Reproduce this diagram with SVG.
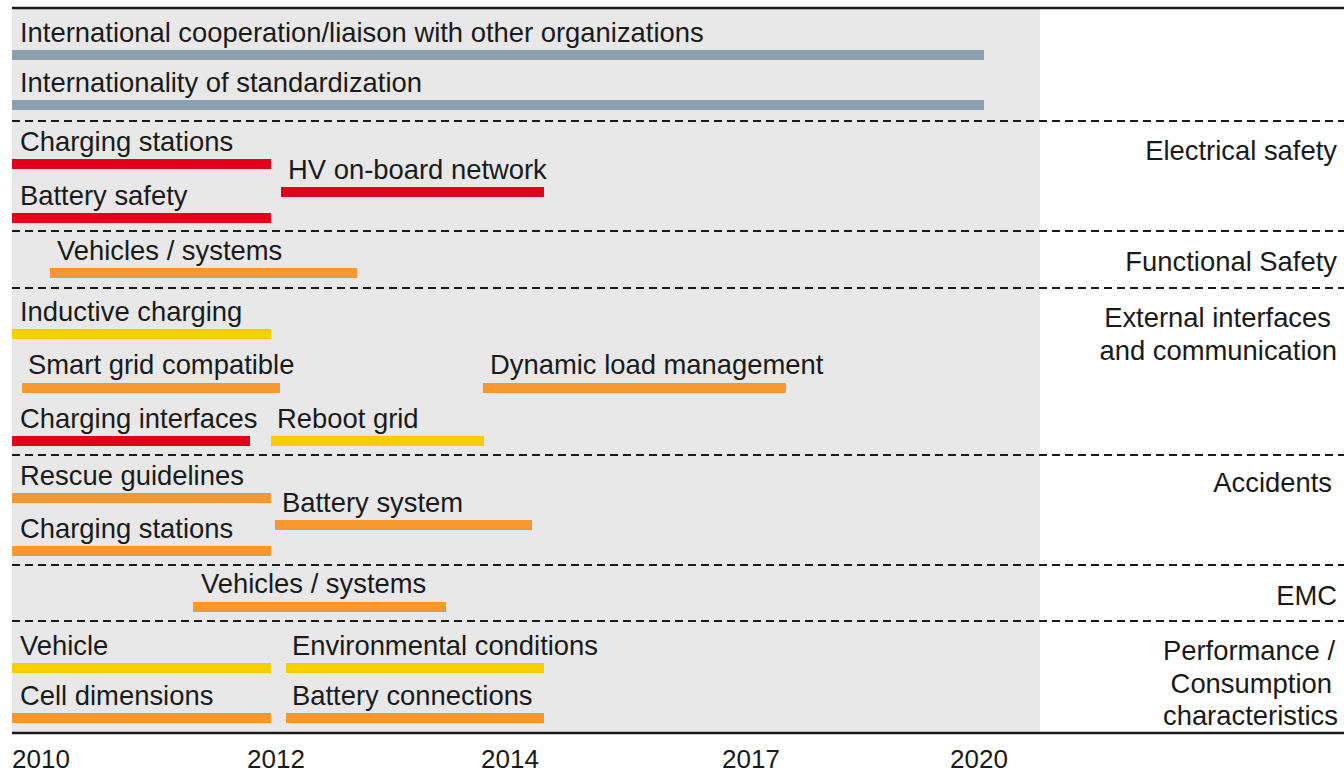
<svg xmlns="http://www.w3.org/2000/svg" width="1344" height="772" viewBox="0 0 1344 772">
<style>
text{font-family:"Liberation Sans",Arial,sans-serif;font-size:27.4px;fill:#1a1a1a}
.r{text-anchor:end}
.y{font-size:26px}
.gb{fill:#8ca1af}
.red{fill:#e3001b}
.or{fill:#f7972f}
.ye{fill:#f6cf00}
.dash{stroke:#1a1a1a;stroke-width:2.2;stroke-dasharray:8 5;fill:none}
.solid{stroke:#1a1a1a;stroke-width:2.5;fill:none}
</style>
<rect x="0" y="0" width="1344" height="772" fill="#ffffff"/>
<rect x="12" y="9" width="1028" height="723" fill="#e8e8e8"/>
<g id="connectors">
<line class="solid" x1="12" y1="8" x2="1344" y2="8"/>
<line class="solid" x1="12" y1="733" x2="1344" y2="733"/>
<line class="dash" x1="12" y1="121" x2="1344" y2="121"/>
<line class="dash" x1="12" y1="231" x2="1344" y2="231"/>
<line class="dash" x1="12" y1="288" x2="1344" y2="288"/>
<line class="dash" x1="12" y1="455" x2="1344" y2="455"/>
<line class="dash" x1="12" y1="565" x2="1344" y2="565"/>
<line class="dash" x1="12" y1="621" x2="1344" y2="621"/>
</g>
<g id="intl-coop"><text x="20" y="42">International cooperation/liaison with other organizations</text><rect class="gb" x="12" y="50" width="972" height="10"/></g>
<g id="intl-std"><text x="20" y="92">Internationality of standardization</text><rect class="gb" x="12" y="100" width="972" height="10"/></g>
<g id="es-charging"><text x="20" y="151">Charging stations</text><rect class="red" x="12" y="159" width="259" height="10"/></g>
<g id="es-hv"><text x="288" y="179">HV on-board network</text><rect class="red" x="281" y="187" width="263" height="10"/></g>
<g id="es-battery"><text x="20" y="205">Battery safety</text><rect class="red" x="12" y="213" width="259" height="10"/></g>
<g id="fs-vehicles"><text x="57" y="260">Vehicles / systems</text><rect class="or" x="50" y="268" width="307" height="10"/></g>
<g id="ei-inductive"><text x="20" y="321">Inductive charging</text><rect class="ye" x="12" y="329" width="259" height="10"/></g>
<g id="ei-smart"><text x="28" y="374">Smart grid compatible</text><rect class="or" x="22" y="383" width="258" height="10"/></g>
<g id="ei-dynamic"><text x="490" y="374">Dynamic load management</text><rect class="or" x="483" y="383" width="303" height="10"/></g>
<g id="ei-interfaces"><text x="20" y="428">Charging interfaces</text><rect class="red" x="12" y="436" width="238" height="10"/></g>
<g id="ei-reboot"><text x="277" y="428">Reboot grid</text><rect class="ye" x="271" y="436" width="213" height="10"/></g>
<g id="ac-rescue"><text x="20" y="485">Rescue guidelines</text><rect class="or" x="12" y="493" width="259" height="10"/></g>
<g id="ac-battery"><text x="282" y="512">Battery system</text><rect class="or" x="275" y="520" width="257" height="10"/></g>
<g id="ac-charging"><text x="20" y="538">Charging stations</text><rect class="or" x="12" y="546" width="259" height="10"/></g>
<g id="emc-vehicles"><text x="201" y="593">Vehicles / systems</text><rect class="or" x="193" y="602" width="253" height="10"/></g>
<g id="pc-vehicle"><text x="20" y="655">Vehicle</text><rect class="ye" x="12" y="663" width="259" height="10"/></g>
<g id="pc-env"><text x="292" y="655">Environmental conditions</text><rect class="ye" x="286" y="663" width="258" height="10"/></g>
<g id="pc-cell"><text x="20" y="705">Cell dimensions</text><rect class="or" x="12" y="713" width="259" height="10"/></g>
<g id="pc-battery"><text x="292" y="705">Battery connections</text><rect class="or" x="286" y="713" width="258" height="10"/></g>
<g id="categories">
<text class="r" x="1337" y="160">Electrical safety</text>
<text class="r" x="1337" y="271">Functional Safety</text>
<text class="r" x="1331" y="327">External interfaces</text>
<text class="r" x="1337" y="360">and communication</text>
<text class="r" x="1332" y="492">Accidents</text>
<text class="r" x="1337" y="605">EMC</text>
<text class="r" x="1335" y="660">Performance /</text>
<text class="r" x="1332" y="693">Consumption</text>
<text class="r" x="1338" y="725">characteristics</text>
</g>
<g id="axis">
<text class="y" x="12" y="768">2010</text>
<text class="y" x="247" y="768">2012</text>
<text class="y" x="481" y="768">2014</text>
<text class="y" x="722" y="768">2017</text>
<text class="y" x="950" y="768">2020</text>
</g>
</svg>
